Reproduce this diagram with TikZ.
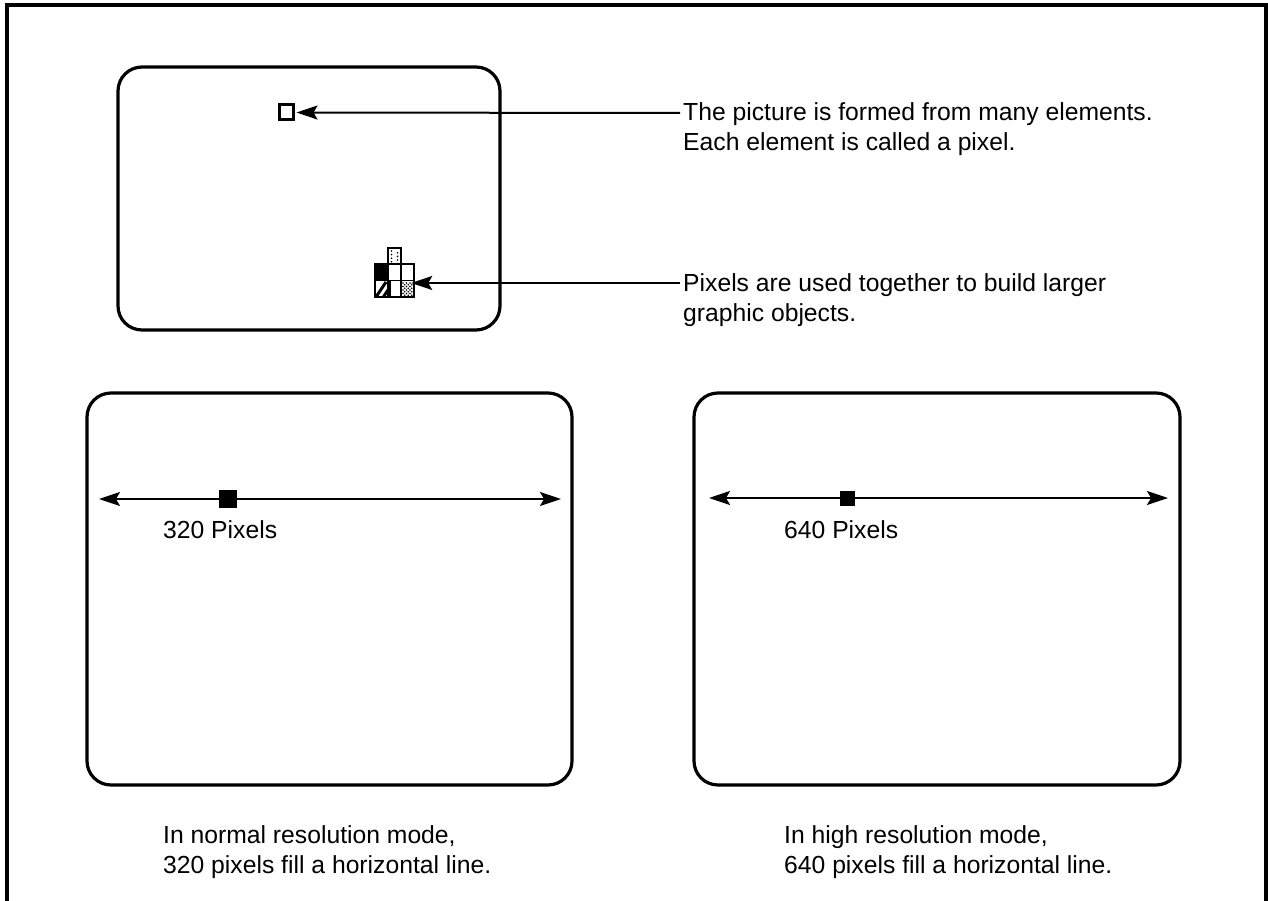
\documentclass[tikz,border=0pt]{standalone}
\usepackage{fontspec}
\setmainfont{Liberation Sans}
\usetikzlibrary{arrows.meta}
\begin{document}
\begin{tikzpicture}[x=1pt,y=-1pt,
  screen/.style={draw,line width=3.2pt,rounded corners=24pt,minimum width=#1,inner sep=0pt},
  label/.style={anchor=base west,inner sep=0pt,font=\fontsize{24.7}{30}\selectfont},
  tip/.tip={Stealth[length=21pt,width=14pt,inset=4pt]},
  ptr/.style={line width=2pt,-tip},
  span/.style={line width=2pt,tip-tip},
  cell/.style={draw,line width=1.9pt,minimum width=13pt,minimum height=16.5pt,inner sep=0pt,outer sep=0pt},
  dot/.style={fill,circle,inner sep=0pt,minimum size=1.8pt}]
\useasboundingbox (0,0) rectangle (1268,901);

% outer frame, open at the bottom
\draw[line width=3.2pt] (7,901) -- (7,5) -- (1266,5) -- (1266,901);

% monitor screens
\node[screen=382pt,minimum height=263pt] (top) at (309,198.5) {};
\node[screen=485pt,minimum height=392pt] (left) at (329.5,589) {};
\node[screen=486pt,minimum height=392pt] (right) at (937,589) {};

% a single pixel
\node[draw,line width=3pt,minimum width=14pt,minimum height=15pt,inner sep=0pt] (px) at (286,112.5) {};

% a group of pixels forming a larger object
\node[cell] (c1) at (381.5,272.25) {};
\node[cell] (c2) at (394.5,272.25) {};
\node[cell] (c3) at (407.5,272.25) {};
\node[cell] (c4) at (381.5,288.75) {};
\node[cell] (c5) at (394.5,288.75) {};
\node[cell] (c6) at (407.5,288.75) {};
\node[cell,minimum height=16pt] (c0) at (394.5,256) {};
\fill (c1.north west) rectangle (c1.south east);
\begin{scope}
  \clip (c4.north west) rectangle (c4.south east);
  \draw[line width=3pt] (376,297) -- (386,282);
  \draw[line width=3pt] (382,299) -- (392,284);
\end{scope}
\draw[line width=1.8pt] (390,281) -- (390,296);
\foreach \i in {0,1,2} \foreach \j in {0,1,2,3} {
  \node[dot] at (403+3.5*\i,283+3.5*\j) {};
  \node[dot] at (404.75+3.5*\i,284.75+3.5*\j) {};
}
\foreach \j in {0,1,2,3} {
  \node[dot] at (391.5,251+3.6*\j) {};
  \node[dot] at (397.5,252.8+3.6*\j) {};
}
\node[inner sep=0pt,minimum width=39pt,minimum height=28pt] (grp) at (394.5,283) {};

% captions at the top
\node[label] (t1) at (683,121) {The picture is formed from many elements.};
\node[label] (t2) at (683,151) {Each element is called a pixel.};
\node[label] (g1) at (683,291) {Pixels are used together to build larger};
\node[label] (g2) at (683,321) {graphic objects.};
\draw[ptr,shorten >=2pt] ([xshift=-3pt,yshift=8pt]t1.base west) -- (px.east);
\draw[ptr,shorten >=-3pt] ([xshift=-3pt,yshift=8pt]g1.base west) -- (grp.east);

% horizontal lines across the screens
\coordinate (la) at (99,499);
\coordinate (lb) at (561,499);
\coordinate (ra) at (709,498);
\coordinate (rb) at (1168,498);
\draw[span] (la) -- (lb);
\draw[span] (ra) -- (rb);
\node[fill,minimum size=18pt,inner sep=0pt] (lp) at (228,499) {};
\node[fill,minimum size=15pt,inner sep=0pt] (rp) at (847.5,498) {};
\node[label] (ln) at (163,538) {320 Pixels};
\node[label] (rn) at (784,538) {640 Pixels};

% captions under the screens
\node[label] (lc1) at (163,843) {In normal resolution mode,};
\node[label] (lc2) at (163,873) {320 pixels fill a horizontal line.};
\node[label] (rc1) at (784,843) {In high resolution mode,};
\node[label] (rc2) at (784,873) {640 pixels fill a horizontal line.};
\end{tikzpicture}
\end{document}
